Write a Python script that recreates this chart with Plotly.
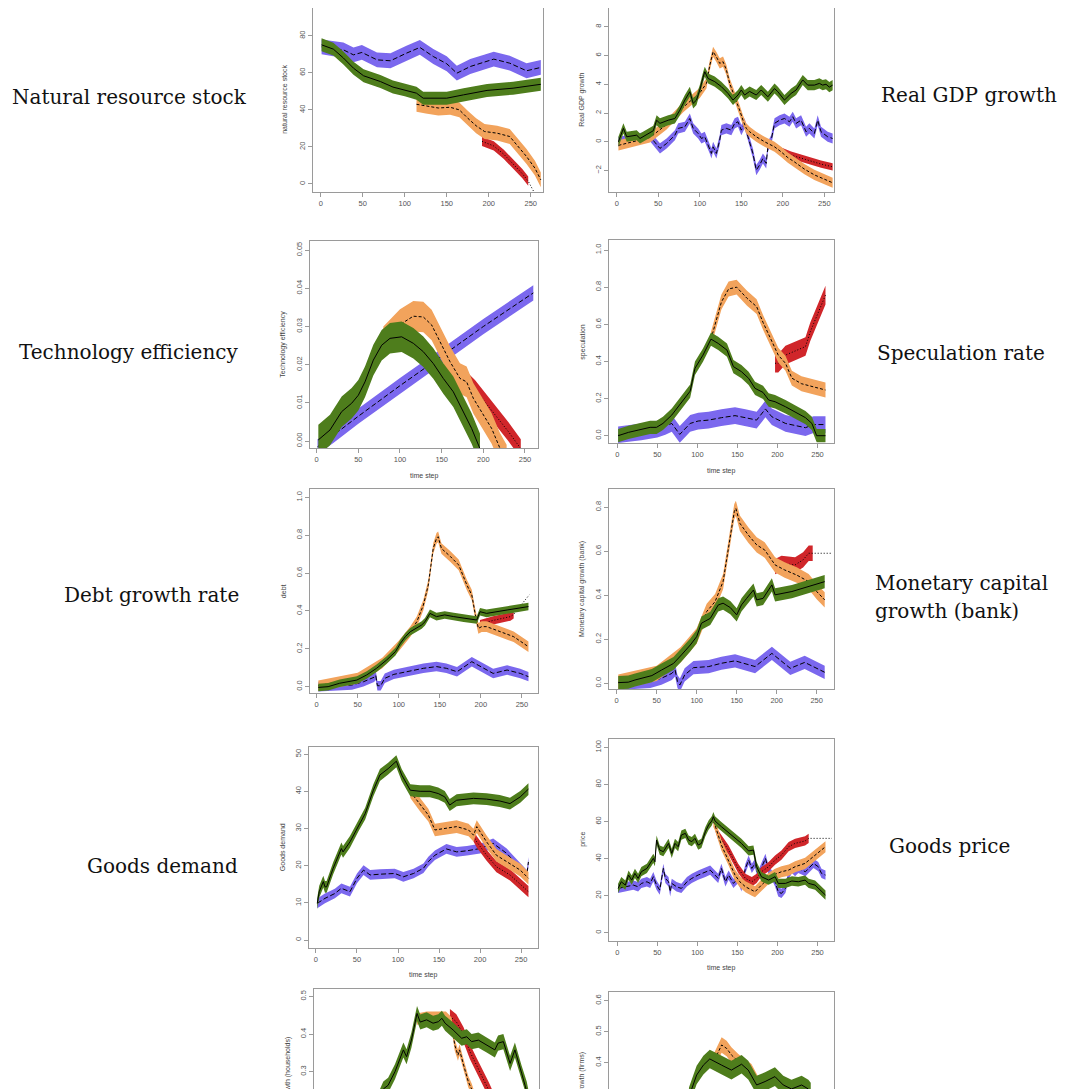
import plotly.graph_objects as go

W, H = 1072, 1089

# ---------------- Panel 1: natural resource stock ----------------
nr_t_blue = [1, 15, 27, 39, 49, 67, 83, 102, 118, 134, 150, 162, 178, 206, 225, 245, 262]
nr_blue = [74, 73, 72.4, 69.7, 71, 67, 66.5, 70.6, 73.7, 68.8, 64.9, 59.8, 63.4, 67.4, 65.2, 61.1, 62.9]
nr_blue_w = 4.0
nr_t_red = [192, 206, 218, 229, 240, 247, 254]
nr_red = [23, 20.5, 16, 11, 5.5, 1.5, -4.5]
nr_red_w = 2.5
nr_red_band_end = 247
nr_t_orange = [114, 125, 140, 154, 165, 175, 185, 195, 210, 225, 235, 245, 255, 262]
nr_orange = [43, 42, 41, 41.4, 40, 35.5, 31.4, 28.3, 27.4, 25.6, 20.2, 14.8, 8.5, 2.2]
nr_orange_w = 4.0
nr_t_green = [1, 15, 27, 39, 51, 71, 86, 100, 114, 122, 150, 170, 198, 229, 262]
nr_green = [75.1, 72.8, 68, 62.5, 58.4, 55.3, 52.3, 50.8, 49, 46.3, 46.3, 48.1, 50.5, 51.7, 53.8]
nr_green_w = 3.5

# ---------------- Panel 2: real GDP growth ----------------
gdp_t_blue = [2, 20, 40, 42, 52, 60, 66, 70, 74, 82, 88, 92, 98, 102, 106, 112, 114, 116, 120, 124,
              126, 132, 138, 142, 146, 150, 154, 158, 164, 168, 172, 176, 180, 182, 186, 190, 196, 202,
              208, 212, 216, 222, 228, 232, 238, 242, 246, 254, 260]
gdp_blue = [0, 0.2, 0.39, 0.23, -0.46, -0.12, 0.23, 0.46, 0.93, 1.04, 1.62, 0.93, 0.58, 0.23, 0.35,
            -0.46, -0.81, -0.35, -0.81, 0.12, 0.81, 0.93, 0.81, 1.28, 1.39, 0.81, 1.28, 0.35, -0.81,
            -1.97, -1.62, -1.16, -1.5, -0.35, 0.12, 1.28, 1.5, 1.62, 1.39, 1.74, 1.28, 1.5, 0.7, 0.93,
            0.58, 1.5, 0.7, 0.35, 0.23]
gdp_blue_w = 0.35
gdp_t_red = [190, 198, 210, 230, 246, 260]
gdp_red = [-0.35, -0.65, -0.93, -1.28, -1.55, -1.74]
gdp_red_w = 0.25
gdp_t_orange = [2, 40, 60, 80, 100, 108, 112, 116, 120, 124, 128, 132, 136, 140, 144, 148, 152, 156,
                160, 168, 178, 190, 198, 206, 214, 226, 238, 250, 260]
gdp_orange = [-0.25, 0.3, 1.2, 2.4, 3.4, 4.06, 5.3, 6.26, 5.9, 5.45, 5.57, 5.0, 4.06, 3.48, 2.9, 2.2,
              1.5, 0.93, 0.7, 0.35, 0.0, -0.35, -0.7, -1.1, -1.4, -1.9, -2.3, -2.6, -2.85]
gdp_orange_w = 0.35
gdp_t_green = [2, 8, 12, 24, 28, 38, 44, 48, 52, 62, 70, 76, 82, 88, 92, 96, 100, 104, 106, 110, 118,
               126, 134, 140, 146, 150, 154, 160, 168, 174, 182, 190, 194, 202, 210, 216, 224, 230, 238,
               244, 248, 252, 256, 260]
gdp_green = [0, 0.93, 0.35, 0.46, 0.23, 0.58, 0.77, 1.5, 1.28, 1.5, 1.62, 2.2, 2.9, 3.48, 2.67, 2.9,
             3.6, 4.5, 4.87, 4.4, 4.18, 3.83, 3.36, 2.9, 3.25, 3.6, 3.25, 3.5, 3.25, 3.6, 3.13, 3.7,
             3.48, 2.9, 3.36, 3.6, 4.3, 3.94, 3.94, 4.06, 3.94, 4.0, 3.8, 3.94]
gdp_green_w = 0.35

# ---------------- Panel 3: technology efficiency ----------------
tech_t_blue = [1, 20, 50, 100, 150, 200, 260]
tech_blue = [-0.0015, 0.0015, 0.0065, 0.0145, 0.0222, 0.0300, 0.0388]
tech_blue_w = 0.002
tech_t_red = [176, 190, 210, 230, 245]
tech_red = [0.0165, 0.0135, 0.008, 0.0025, -0.002]
tech_red_w = 0.0025
tech_t_orange = [80, 100, 116, 128, 138, 148, 160, 172, 180, 188, 200, 210, 220, 228]
tech_orange = [0.026, 0.0305, 0.0327, 0.0325, 0.0304, 0.026, 0.0208, 0.0164, 0.0155, 0.0112, 0.0068,
               0.0033, -0.0019, -0.005]
tech_orange_w = 0.004
tech_t_green = [2, 16, 30, 42, 50, 58, 68, 78, 88, 102, 116, 128, 140, 152, 164, 176, 186, 196]
tech_green = [0.0003, 0.0029, 0.0077, 0.0099, 0.012, 0.0155, 0.0212, 0.0251, 0.0269, 0.0273, 0.0256,
              0.0234, 0.0203, 0.0164, 0.0129, 0.0077, 0.0033, -0.002]
tech_green_w = 0.004

# ---------------- Panel 4: speculation ----------------
spec_t_blue = [1, 30, 50, 60, 68, 78, 91, 101, 114, 130, 147, 160, 174, 185, 193, 210, 235, 245, 260]
spec_blue = [0.005, 0.02, 0.035, 0.05, 0.066, 0.007, 0.066, 0.079, 0.084, 0.097, 0.108, 0.097, 0.084,
             0.144, 0.102, 0.066, 0.043, 0.06, 0.06]
spec_blue_w = 0.045
spec_t_red = [197, 201, 210, 222, 235, 241, 251, 260]
spec_red = [0.39, 0.39, 0.434, 0.456, 0.48, 0.56, 0.668, 0.757]
spec_red_w = 0.05
spec_t_orange = [117, 130, 139, 149, 162, 174, 182, 193, 201, 210, 218, 230, 243, 260]
spec_orange = [0.52, 0.72, 0.79, 0.80, 0.74, 0.695, 0.61, 0.506, 0.434, 0.39, 0.31, 0.28, 0.264, 0.246]
spec_orange_w = 0.04
spec_t_green = [1, 14, 26, 35, 41, 49, 57, 68, 78, 91, 97, 107, 117, 126, 137, 145, 155, 164, 172, 182,
                189, 197, 210, 222, 235, 243, 249, 260]
spec_green = [0, 0.018, 0.03, 0.04, 0.045, 0.045, 0.066, 0.111, 0.165, 0.24, 0.363, 0.434, 0.52, 0.497,
              0.461, 0.372, 0.345, 0.309, 0.255, 0.233, 0.192, 0.183, 0.156, 0.129, 0.097, 0.066, 0.0, 0.0]
spec_green_w = 0.036

# ---------------- Panel 5: debt ----------------
debt_t_blue = [2, 20, 43, 57, 70, 72, 74, 78, 83, 94, 110, 130, 146, 158, 171, 189, 215, 232, 248, 258]
debt_blue = [0.0, 0.005, 0.009, 0.026, 0.05, 0.06, 0.005, 0.005, 0.044, 0.065, 0.079, 0.097, 0.106,
             0.097, 0.079, 0.132, 0.07, 0.088, 0.07, 0.053]
debt_blue_w = 0.025
debt_t_red = [199, 215, 236, 240, 259]
debt_red = [0.33, 0.35, 0.37, 0.382, 0.485]
debt_red_w = 0.022
debt_red_band_end = 240
debt_t_orange = [2, 50, 80, 100, 114, 122, 130, 136, 142, 146, 148, 152, 163, 173, 183, 189, 193, 197,
                 201, 207, 224, 240, 258]
debt_orange = [0.005, 0.045, 0.125, 0.215, 0.29, 0.343, 0.431, 0.537, 0.73, 0.783, 0.792, 0.73, 0.687,
               0.643, 0.537, 0.484, 0.387, 0.308, 0.317, 0.317, 0.29, 0.264, 0.211]
debt_orange_w = 0.028
debt_t_green = [2, 14, 28, 49, 61, 73, 85, 96, 102, 108, 114, 128, 132, 138, 146, 156, 167, 179, 195,
                199, 207, 232, 258]
debt_green = [-0.004, 0.0, 0.018, 0.035, 0.062, 0.097, 0.14, 0.185, 0.229, 0.264, 0.29, 0.326, 0.343,
              0.387, 0.37, 0.379, 0.37, 0.361, 0.352, 0.396, 0.387, 0.405, 0.423]
debt_green_w = 0.02

# ---------------- Panel 6: monetary capital growth (bank) ----------------
mon_t_blue = [2, 20, 42, 56, 69, 73, 76, 79, 85, 96, 115, 131, 148, 173, 194, 217, 235, 260]
mon_blue = [0.0, 0.004, 0.008, 0.023, 0.045, 0.061, 0.008, -0.008, 0.038, 0.071, 0.076, 0.091, 0.102,
            0.076, 0.136, 0.068, 0.095, 0.05]
mon_blue_w = 0.03
mon_t_red = [198, 206, 223, 233, 240, 245, 269]
mon_red = [0.53, 0.545, 0.538, 0.561, 0.591, 0.591, 0.591]
mon_red_w = 0.035
mon_red_band_end = 245
mon_t_orange = [2, 50, 80, 100, 112.5, 123, 133, 140, 147, 149, 154, 164.5, 175, 185, 198, 210, 225,
                240, 250, 260]
mon_orange = [0.005, 0.045, 0.13, 0.215, 0.326, 0.371, 0.462, 0.629, 0.78, 0.795, 0.727, 0.674, 0.629,
              0.606, 0.538, 0.515, 0.492, 0.462, 0.417, 0.379]
mon_orange_w = 0.035
mon_t_green = [2, 14.5, 23, 44, 56, 71, 81, 92, 100, 106, 117, 127, 133, 142, 150, 156, 162.5, 171,
               175, 183, 194, 198, 219, 240, 260]
mon_green = [0.003, 0.005, 0.015, 0.035, 0.06, 0.09, 0.129, 0.174, 0.212, 0.273, 0.295, 0.356, 0.364,
             0.344, 0.311, 0.356, 0.386, 0.424, 0.379, 0.386, 0.447, 0.402, 0.417, 0.44, 0.462]
mon_green_w = 0.03

# ---------------- Panel 7: goods demand ----------------
dem_t_blue = [1.6, 11, 23, 31, 41.5, 50, 58, 66, 78, 96, 106.5, 119, 131, 137, 145, 159, 171.5, 184,
              200, 216, 232.5, 249, 257, 259]
dem_blue = [9.86, 11.2, 12.5, 13.9, 13, 16.6, 18.8, 17.5, 17.7, 17.9, 17, 17.9, 19.3, 21.1, 22.8, 24.5,
            23.7, 24, 24.6, 26, 23.3, 19.3, 17.5, 21]
dem_blue_w = 1.3
dem_t_red = [192, 196, 208, 220, 236.5, 259]
dem_red = [28, 26.4, 22.8, 19.7, 17.5, 13]
dem_red_w = 1.5
dem_t_orange = [115, 127, 137, 145, 159, 171.5, 186, 192, 196, 208, 220, 236.5, 249, 259]
dem_orange = [39.9, 36.3, 33.6, 29.6, 30, 30.5, 29.6, 28.2, 30.5, 26.4, 22.8, 20.6, 18.8, 16.6]
dem_orange_w = 1.7
dem_t_green = [1.6, 4, 9, 11, 13, 21, 31, 33, 41.5, 52, 60, 70, 78, 88, 98, 104.5, 115, 127, 139, 149,
               157, 163, 171.5, 192, 208, 224, 236.5, 249, 259]
dem_green = [9.86, 13, 15.7, 14.3, 14.3, 19.3, 24.6, 23.7, 26.4, 30.9, 34, 40.3, 44.4, 46.1, 48.1, 44.4,
             40.3, 40, 40, 39.4, 38.5, 36.3, 37.6, 38.1, 37.9, 37.4, 36.7, 38.5, 40.6]
dem_green_w = 1.6

# ---------------- Panel 8: goods price ----------------
price_t_blue = [1, 10, 20, 26, 30, 37, 41, 45, 49, 53, 57.5, 60, 64, 66, 68, 74, 80, 87, 93, 101, 110,
                116, 122, 126, 130, 135, 139, 145, 151, 155, 160, 164, 168, 172, 176, 180, 185, 189, 193,
                197, 201, 205, 210, 214, 218, 222, 226, 235, 239, 245, 251, 255, 260]
price_blue = [23.9, 24.8, 25.7, 24.8, 26.6, 27.5, 26.6, 30.2, 25.7, 23, 34.7, 29.3, 27.5, 22.1, 26.6,
              24.8, 23.9, 27.5, 29.3, 31.1, 32.6, 33.8, 31.1, 29.3, 34.7, 27.5, 31.1, 26.6, 29.3, 24.8,
              34.7, 39.2, 34.7, 37.4, 31.1, 35.6, 40.1, 33.8, 31.1, 27.5, 22.1, 21.2, 23.9, 31.1, 34.7,
              32.9, 34.7, 32.9, 34.7, 37.4, 35.6, 32, 31.1]
price_blue_w = 2.5
price_t_red = [122, 126, 139, 151, 160, 168, 174, 180, 189, 197, 205, 214, 222, 234.5, 239, 247, 268]
price_red = [58, 52.7, 44.6, 34.7, 29.3, 27.5, 29.3, 32.9, 35.6, 39.2, 41.9, 46.4, 48.2, 49.5, 50.9,
             50.9, 50.9]
price_red_w = 2.5
price_red_band_end = 240
price_t_orange = [120, 122, 130, 139, 147, 153, 160, 168, 172, 180, 189, 197, 205, 214, 222, 234.5, 247, 260]
price_orange = [60, 58.1, 47.3, 39.2, 31.1, 27.5, 24.8, 23, 22.1, 25.7, 29.3, 31.5, 32.9, 33.8, 35.6,
                37.4, 41.9, 46.4]
price_orange_w = 3.0
price_t_green = [1, 5, 10, 14, 18, 22, 26, 30, 37, 41, 45, 47, 49, 53, 57.5, 64, 68, 72, 76, 80, 85, 89,
                 93, 97, 101, 105, 110, 114, 118, 120, 122, 130, 143, 155, 164, 170, 174, 180, 189, 197,
                 201, 210, 218, 226, 234.5, 239, 247, 260]
price_green = [23.9, 27.5, 25.7, 31.1, 28.4, 32, 29.3, 32.9, 34.7, 37.4, 40.1, 38.3, 50, 44.6, 43.7,
               48.2, 42.8, 48.2, 46.4, 52.7, 53.6, 50, 49.1, 50.9, 47.3, 48.2, 54.5, 58.1, 60.3, 62.6,
               60.3, 57.2, 52.7, 48.2, 44.1, 44.6, 35.6, 30.2, 28.4, 30.2, 26.6, 26.6, 27.9, 27.5, 28.4,
               26.6, 25.7, 20.3]
price_green_w = 2.5

# ---------------- Panel 9: monetary capital growth (households) ----------------
hh_t_red = [160, 168, 177, 185, 193, 201.7, 208, 212]
hh_red = [0.447, 0.433, 0.398, 0.353, 0.318, 0.282, 0.254, 0.235]
hh_red_w = 0.02
hh_t_orange = [119, 131, 145, 155, 162, 166, 170, 172, 177, 183, 187, 190]
hh_orange = [0.44, 0.445, 0.445, 0.445, 0.43, 0.371, 0.344, 0.358, 0.318, 0.273, 0.254, 0.235]
hh_orange_w = 0.015
hh_t_green = [70, 77, 83, 91.5, 102, 106, 112, 119, 123, 131, 139, 145.6, 150, 154, 164, 174.6, 181,
              187, 195.5, 205.8, 216, 220, 226.6, 235, 241, 249.4, 255.7, 258]
hh_green = [0.22, 0.254, 0.264, 0.3, 0.358, 0.34, 0.384, 0.455, 0.432, 0.438, 0.429, 0.433, 0.442,
            0.429, 0.411, 0.389, 0.393, 0.38, 0.384, 0.371, 0.358, 0.376, 0.38, 0.322, 0.358, 0.296,
            0.254, 0.23]
hh_green_w = 0.02

# ---------------- Panel 10: monetary capital growth (firms) ----------------
fm_t_orange = [116, 122, 130.8, 137, 143, 151.6, 160, 168, 174.5, 180]
fm_orange = [0.41, 0.409, 0.457, 0.446, 0.425, 0.403, 0.387, 0.371, 0.339, 0.31]
fm_orange_w = 0.025
fm_t_green = [90, 93.3, 99.6, 108, 116, 130.8, 143, 155.7, 164, 174.5, 185, 197.3, 207.7, 218, 230.6,
              239, 242]
fm_green = [0.29, 0.315, 0.36, 0.392, 0.412, 0.392, 0.376, 0.395, 0.376, 0.328, 0.339, 0.355, 0.328,
            0.315, 0.328, 0.315, 0.305]
fm_green_w = 0.03

x_ticks = [0, 50, 100, 150, 200, 250]

# ---------------- styling ----------------
BLUE = "#7B68EE"
GREEN = "#4E7D1C"
ORANGE = "#F2A35C"
RED = "#D0262A"
DASH_BLUE = "5px,2.5px"
DASH_ORANGE = "3px,2px"
DASH_RED = "1px,2px"

fig = go.Figure()


def ax_names(k):
    return ("x" if k == 1 else f"x{k}"), ("y" if k == 1 else f"y{k}")


def add_series(k, t, y, w, color, dash, band_end=None):
    xa, ya = ax_names(k)
    tb = [a for a in t if band_end is None or a <= band_end]
    yb = y[:len(tb)]
    up = [v + w for v in yb]
    lo = [v - w for v in yb]
    fig.add_trace(go.Scatter(x=tb + tb[::-1], y=up + lo[::-1], mode="lines", fill="toself",
                             fillcolor=color, line=dict(width=0, color=color), hoverinfo="skip",
                             showlegend=False, xaxis=xa, yaxis=ya))
    fig.add_trace(go.Scatter(x=t, y=y, mode="lines", line=dict(color="black", width=1, dash=dash),
                             hoverinfo="skip", showlegend=False, xaxis=xa, yaxis=ya))


series = {
    1: [(nr_t_blue, nr_blue, nr_blue_w, BLUE, DASH_BLUE, None),
        (nr_t_red, nr_red, nr_red_w, RED, DASH_RED, nr_red_band_end),
        (nr_t_orange, nr_orange, nr_orange_w, ORANGE, DASH_ORANGE, None),
        (nr_t_green, nr_green, nr_green_w, GREEN, "solid", None)],
    2: [(gdp_t_blue, gdp_blue, gdp_blue_w, BLUE, DASH_BLUE, None),
        (gdp_t_red, gdp_red, gdp_red_w, RED, DASH_RED, None),
        (gdp_t_orange, gdp_orange, gdp_orange_w, ORANGE, DASH_ORANGE, None),
        (gdp_t_green, gdp_green, gdp_green_w, GREEN, "solid", None)],
    3: [(tech_t_blue, tech_blue, tech_blue_w, BLUE, DASH_BLUE, None),
        (tech_t_red, tech_red, tech_red_w, RED, DASH_RED, None),
        (tech_t_orange, tech_orange, tech_orange_w, ORANGE, DASH_ORANGE, None),
        (tech_t_green, tech_green, tech_green_w, GREEN, "solid", None)],
    4: [(spec_t_blue, spec_blue, spec_blue_w, BLUE, DASH_BLUE, None),
        (spec_t_red, spec_red, spec_red_w, RED, DASH_RED, None),
        (spec_t_orange, spec_orange, spec_orange_w, ORANGE, DASH_ORANGE, None),
        (spec_t_green, spec_green, spec_green_w, GREEN, "solid", None)],
    5: [(debt_t_blue, debt_blue, debt_blue_w, BLUE, DASH_BLUE, None),
        (debt_t_red, debt_red, debt_red_w, RED, DASH_RED, debt_red_band_end),
        (debt_t_orange, debt_orange, debt_orange_w, ORANGE, DASH_ORANGE, None),
        (debt_t_green, debt_green, debt_green_w, GREEN, "solid", None)],
    6: [(mon_t_blue, mon_blue, mon_blue_w, BLUE, DASH_BLUE, None),
        (mon_t_red, mon_red, mon_red_w, RED, DASH_RED, mon_red_band_end),
        (mon_t_orange, mon_orange, mon_orange_w, ORANGE, DASH_ORANGE, None),
        (mon_t_green, mon_green, mon_green_w, GREEN, "solid", None)],
    7: [(dem_t_blue, dem_blue, dem_blue_w, BLUE, DASH_BLUE, None),
        (dem_t_red, dem_red, dem_red_w, RED, DASH_RED, None),
        (dem_t_orange, dem_orange, dem_orange_w, ORANGE, DASH_ORANGE, None),
        (dem_t_green, dem_green, dem_green_w, GREEN, "solid", None)],
    8: [(price_t_blue, price_blue, price_blue_w, BLUE, DASH_BLUE, None),
        (price_t_red, price_red, price_red_w, RED, DASH_RED, price_red_band_end),
        (price_t_orange, price_orange, price_orange_w, ORANGE, DASH_ORANGE, None),
        (price_t_green, price_green, price_green_w, GREEN, "solid", None)],
    9: [(hh_t_red, hh_red, hh_red_w, RED, DASH_RED, None),
        (hh_t_orange, hh_orange, hh_orange_w, ORANGE, DASH_ORANGE, None),
        (hh_t_green, hh_green, hh_green_w, GREEN, "solid", None)],
    10: [(fm_t_orange, fm_orange, fm_orange_w, ORANGE, DASH_ORANGE, None),
         (fm_t_green, fm_green, fm_green_w, GREEN, "solid", None)],
}

for k, lst in series.items():
    for (t, y, w, c, d, be) in lst:
        add_series(k, t, y, w, c, d, be)

# panel geometry (pixels) and axes
panels = [
    dict(k=1, x0=313, x1=543, y0=8, y1=191.7, xr=[-9.2, 264.6], yr=[-4.2, 95],
         yt=[0, 20, 40, 60, 80], fmt="", title="natural resource stock", tx=285, xt=None, kind="top"),
    dict(k=2, x0=609.3, x1=834.3, y0=8, y1=191.7, xr=[-9, 262], yr=[-3.47, 9.3],
         yt=[-2, 0, 2, 4, 6, 8], fmt="", title="Real GDP growth", tx=582, xt=None, kind="top"),
    dict(k=3, x0=310, x1=538.3, y0=241, y1=448.3, xr=[-8, 266], yr=[-0.0019, 0.0524],
         yt=[0, 0.01, 0.02, 0.03, 0.04, 0.05], fmt=".2f", title="Technology efficiency", tx=283, xt=476, kind="box"),
    dict(k=4, x0=609.3, x1=834.3, y0=240, y1=443.3, xr=[-10, 271], yr=[-0.041, 1.054],
         yt=[0, 0.2, 0.4, 0.6, 0.8, 1.0], fmt=".1f", title="speculation", tx=583, xt=471, kind="box"),
    dict(k=5, x0=310, x1=538.3, y0=489, y1=693.3, xr=[-8.1, 270], yr=[-0.035, 1.044],
         yt=[0, 0.2, 0.4, 0.6, 0.8, 1.0], fmt=".1f", title="debt", tx=283, xt=None, kind="box"),
    dict(k=6, x0=609.3, x1=834.3, y0=489, y1=689, xr=[-9.2, 272], yr=[-0.026, 0.883],
         yt=[0, 0.2, 0.4, 0.6, 0.8], fmt=".1f", title="Monetary capital growth (bank)", tx=582, xt=None, kind="box"),
    dict(k=7, x0=309.3, x1=538.3, y0=746.7, y1=947.7, xr=[-8.1, 271], yr=[-2.07, 52],
         yt=[0, 10, 20, 30, 40, 50], fmt="", title="Goods demand", tx=282, xt=975, kind="box"),
    dict(k=8, x0=609.3, x1=834.3, y0=739, y1=940.7, xr=[-10, 271], yr=[-4.3, 104.5],
         yt=[0, 20, 40, 60, 80, 100], fmt="", title="price", tx=583, xt=968, kind="box"),
    dict(k=9, x0=314, x1=539.3, y0=989, y1=H, xr=[-9.4, 271.4], yr=[0.254, 0.52],
         yt=[0.3, 0.4, 0.5], fmt=".1f", title="Monetary capital growth (households)", tx=287, xt=None,
         kind="cut", ttop=1035),
    dict(k=10, x0=609.3, x1=834.3, y0=992.3, y1=H, xr=[-9.4, 271.4], yr=[0.315, 0.627],
         yt=[0.4, 0.5, 0.6], fmt=".1f", title="Monetary capital growth (firms)", tx=582, xt=None,
         kind="cut", ttop=1050),
]

LINEC = "#9a9a9a"
TICKFONT = dict(family="Liberation Sans, Arial, sans-serif", size=7.5, color="#555555")
TITLEFONT = dict(family="Liberation Sans, Arial, sans-serif", size=7, color="#444444")

layout = {}
annotations = []
for p in panels:
    k = p["k"]
    xa, ya = ax_names(k)
    xkey = "xaxis" if k == 1 else f"xaxis{k}"
    ykey = "yaxis" if k == 1 else f"yaxis{k}"
    xdict = dict(domain=[p["x0"] / W, p["x1"] / W], range=p["xr"], anchor=ya, showgrid=False,
                 zeroline=False, showline=True, linecolor=LINEC, linewidth=1,
                 tickvals=x_ticks, tickfont=TICKFONT, ticks="outside", ticklen=4, tickcolor=LINEC)
    if p["kind"] == "top":
        xdict.update(mirror=False)
    elif p["kind"] == "box":
        xdict.update(mirror=True)
    else:
        xdict.update(side="top", mirror=False, ticks="", showticklabels=False)
    ydict = dict(domain=[1 - p["y1"] / H, 1 - p["y0"] / H], range=p["yr"], anchor=xa, showgrid=False,
                 zeroline=False, showline=True, linecolor=LINEC, linewidth=1, mirror=True,
                 tickvals=p["yt"], tickformat=p["fmt"], tickangle=-90, tickfont=TICKFONT,
                 ticks="outside", ticklen=4, tickcolor=LINEC)
    layout[xkey] = xdict
    layout[ykey] = ydict
    # y-axis title
    if p["kind"] == "cut":
        annotations.append(dict(text=p["title"], xref="paper", yref="paper", x=p["tx"] / W,
                                y=1 - p["ttop"] / H, xanchor="center", yanchor="top", textangle=-90,
                                showarrow=False, font=TITLEFONT))
    else:
        annotations.append(dict(text=p["title"], xref="paper", yref="paper", x=p["tx"] / W,
                                y=1 - (p["y0"] + p["y1"]) / 2 / H, xanchor="center", yanchor="middle",
                                textangle=-90, showarrow=False, font=TITLEFONT))
    if p["xt"] is not None:
        annotations.append(dict(text="time step", xref="paper", yref="paper",
                                x=(p["x0"] + p["x1"]) / 2 / W, y=1 - p["xt"] / H, xanchor="center",
                                yanchor="middle", showarrow=False, font=TITLEFONT))

# big side labels
BIGFONT = dict(family="DejaVu Serif, serif", size=20, color="#111111")
side_labels = [
    ("Natural resource stock", 129.5, 97, "center"),
    ("Real GDP growth", 969, 95, "center"),
    ("Technology efficiency", 128.5, 352, "center"),
    ("Speculation rate", 960.5, 353, "center"),
    ("Debt growth rate", 151.5, 595, "center"),
    ("Monetary capital", 873, 583, "left"),
    ("growth (bank)", 873, 611, "left"),
    ("Goods demand", 162.5, 866, "center"),
    ("Goods price", 949.5, 846, "center"),
]
for txt, xp, yp, anc in side_labels:
    annotations.append(dict(text=txt, xref="paper", yref="paper", x=xp / W, y=1 - yp / H,
                            xanchor=anc, yanchor="middle", showarrow=False, font=BIGFONT))

fig.update_layout(width=W, height=H, margin=dict(l=0, r=0, t=0, b=0), paper_bgcolor="white",
                  plot_bgcolor="white", showlegend=False, annotations=annotations, **layout)

fig.write_html("out.html", config={"displayModeBar": False},
               post_script="document.body.style.margin='0';document.body.style.padding='0';"
                           "document.body.style.overflow='hidden';")
